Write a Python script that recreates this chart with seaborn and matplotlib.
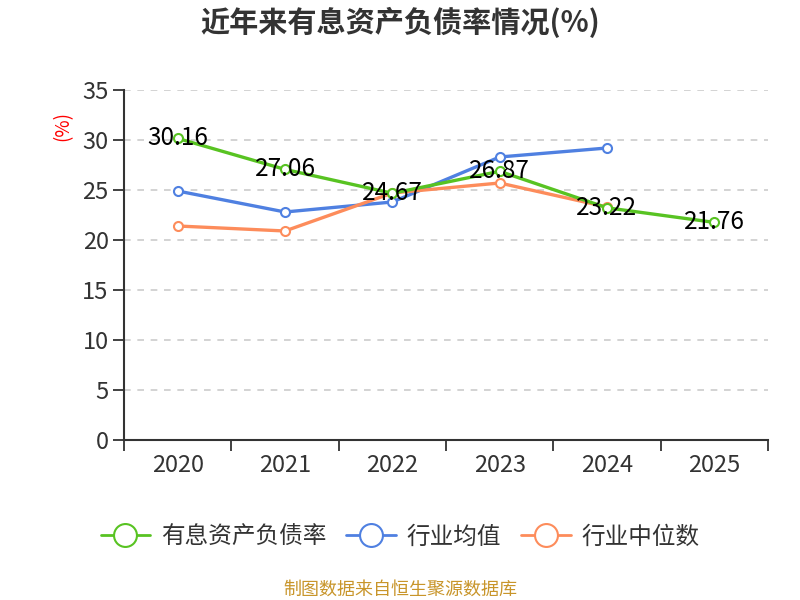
import numpy as np
import pandas as pd
import matplotlib
matplotlib.use("Agg")
import matplotlib.pyplot as plt
from matplotlib.lines import Line2D
import seaborn as sns

years = ["2020", "2021", "2022", "2023", "2024", "2025"]
debt_ratio = [30.16, 27.06, 24.67, 26.87, 23.22, 21.76]
industry_mean = [24.9, 22.8, 23.8, 28.3, 29.2, np.nan]
industry_median = [21.4, 20.9, 24.7, 25.7, 23.3, np.nan]

names = ["有息资产负债率", "行业均值", "行业中位数"]
colors = ["#58c322", "#4f80e1", "#fd8c5b"]

sns.set_style("white")
plt.rcParams["font.family"] = ["Noto Sans CJK SC", "DejaVu Sans"]

fig = plt.figure(figsize=(8, 6), dpi=100)
ax = fig.add_axes([0.155, 0.2667, 0.805, 0.5833])

x = np.arange(len(years))
series = {names[0]: debt_ratio, names[1]: industry_mean, names[2]: industry_median}
# draw the main series last so it sits on top
for name in [names[1], names[2], names[0]]:
    color = colors[names.index(name)]
    df = pd.DataFrame({"x": x, "y": series[name]}).dropna()
    sns.lineplot(data=df, x="x", y="y", ax=ax, color=color, linewidth=2.4,
                 marker="o", markersize=6.5, markerfacecolor="white",
                 markeredgecolor=color, markeredgewidth=1.5, zorder=3)

for xi, v in zip(x, debt_ratio):
    ax.text(xi, v, f"{v:.2f}", ha="center", va="center", fontsize=17.5,
            color="black", zorder=5)

ax.set_xlim(-0.5, len(years) - 0.5)
ax.set_ylim(0, 35)
ax.set_yticks(range(0, 36, 5))
ax.set_xticks(x)
ax.set_xticklabels(years)
ax.set_xticks(np.arange(-0.5, len(years), 1), minor=True)
ax.tick_params(axis="x", which="major", bottom=False, length=0, pad=10,
               labelsize=17, labelcolor="#333333")
ax.tick_params(axis="x", which="minor", bottom=True, length=8, width=1.3, color="#333333")
ax.tick_params(axis="y", left=True, length=8, width=1.3, color="#333333", pad=3,
               labelsize=17, labelcolor="#333333")
ax.yaxis.grid(True, linestyle=(0, (4, 4)), color="#cccccc", linewidth=1.2)
ax.xaxis.grid(False)
for s in ["top", "right"]:
    ax.spines[s].set_visible(False)
for s in ["left", "bottom"]:
    ax.spines[s].set_color("#333333")
    ax.spines[s].set_linewidth(1.5)
ax.set_xlabel("")
ax.set_ylabel("")

fig.text(0.078, 0.79, "(%)", color="red", rotation=90, fontsize=13.5,
         ha="center", va="center")

fig.text(0.5, 0.962, "近年来有息资产负债率情况(%)", ha="center", va="center",
         fontsize=21, fontweight="bold", color="#333333")

handles = [Line2D([0], [0], color=c, linewidth=2, marker="o", markersize=16.5,
                  markerfacecolor="white", markeredgecolor=c, markeredgewidth=1.5)
           for c in colors]
fig.legend(handles, names, loc="center", bbox_to_anchor=(0.5, 0.105), ncol=3,
           frameon=False, fontsize=17, handlelength=2.1, columnspacing=0.85,
           handletextpad=0.45, labelcolor="#333333")

fig.text(0.5, 0.018, "制图数据来自恒生聚源数据库", ha="center", va="center",
         fontsize=13, color="#c8952a")

fig.savefig("out.png", dpi=100)
